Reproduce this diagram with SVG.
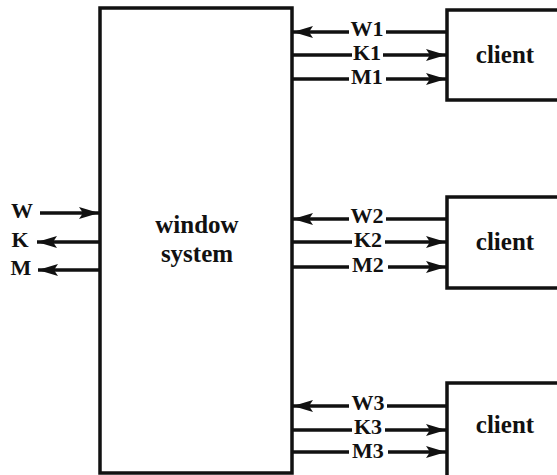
<svg xmlns="http://www.w3.org/2000/svg" width="557" height="475" viewBox="0 0 557 475">
<style>
.box{fill:#fff;stroke:#111;stroke-width:3.5}
.ln{stroke:#111;stroke-width:3.5;fill:none}
.lb{font-family:"Liberation Serif","Times New Roman",serif;font-weight:bold;font-size:22px;fill:#111;text-anchor:middle}
.nm{font-family:"Liberation Serif","Times New Roman",serif;font-weight:bold;font-size:25px;fill:#111;text-anchor:middle}
</style>
<defs>
<marker id="ah" markerUnits="userSpaceOnUse" markerWidth="22" markerHeight="14" refX="20" refY="7" orient="auto">
<path d="M0,1 L20,7 L0,13 L4,7 Z" fill="#111"/>
</marker>
</defs>
<rect width="557" height="475" fill="#fff"/>
<g id="window-system">
<rect class="box" x="100" y="8" width="192" height="465"/>
<text class="nm" x="197" y="233">window</text>
<text class="nm" x="197" y="262">system</text>
</g>
<g id="client1">
<rect class="box" x="447" y="10" width="120" height="90"/>
<text class="nm" x="505" y="63">client</text>
</g>
<g id="client2">
<rect class="box" x="447" y="197" width="120" height="91"/>
<text class="nm" x="505" y="250">client</text>
</g>
<g id="client3">
<rect class="box" x="447" y="383" width="120" height="100"/>
<text class="nm" x="505" y="433">client</text>
</g>
<g id="connectors">
<path class="ln" d="M40,213 H99" marker-end="url(#ah)"/>
<path class="ln" d="M100,242 H37" marker-end="url(#ah)"/>
<path class="ln" d="M100,270 H38" marker-end="url(#ah)"/>
<path class="ln" d="M349,32 H293" marker-end="url(#ah)"/>
<path class="ln" d="M386,32 H447"/>
<path class="ln" d="M292,55 H352"/>
<path class="ln" d="M383,55 H446" marker-end="url(#ah)"/>
<path class="ln" d="M292,79 H349"/>
<path class="ln" d="M386,79 H446" marker-end="url(#ah)"/>
<path class="ln" d="M349,219 H293" marker-end="url(#ah)"/>
<path class="ln" d="M386,219 H447"/>
<path class="ln" d="M292,242 H352"/>
<path class="ln" d="M385,242 H446" marker-end="url(#ah)"/>
<path class="ln" d="M292,267 H349"/>
<path class="ln" d="M388,267 H446" marker-end="url(#ah)"/>
<path class="ln" d="M349,406 H293" marker-end="url(#ah)"/>
<path class="ln" d="M387,406 H447"/>
<path class="ln" d="M292,430 H352"/>
<path class="ln" d="M385,430 H446" marker-end="url(#ah)"/>
<path class="ln" d="M292,452 H349"/>
<path class="ln" d="M388,452 H446" marker-end="url(#ah)"/>
</g>
<g id="labels">
<text class="lb" x="22" y="218">W</text>
<text class="lb" x="20" y="247">K</text>
<text class="lb" x="21" y="275">M</text>
<text class="lb" x="367" y="36">W1</text>
<text class="lb" x="367" y="60">K1</text>
<text class="lb" x="367" y="84">M1</text>
<text class="lb" x="367" y="223">W2</text>
<text class="lb" x="368" y="247">K2</text>
<text class="lb" x="368" y="272">M2</text>
<text class="lb" x="368" y="410">W3</text>
<text class="lb" x="368" y="434">K3</text>
<text class="lb" x="368" y="458">M3</text>
</g>
</svg>
